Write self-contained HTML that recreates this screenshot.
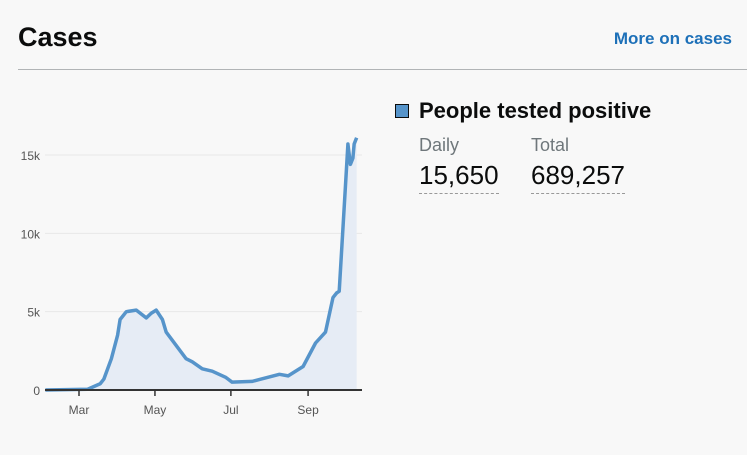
<!DOCTYPE html>
<html><head><meta charset="utf-8"><style>
body{margin:0;width:747px;height:455px;background:#f8f8f8;font-family:"Liberation Sans",sans-serif;position:relative;overflow:hidden}
.t{position:absolute}
</style></head><body>
<div class="t" style="left:18px;top:22px;font-size:27px;font-weight:bold;color:#0b0c0c">Cases</div>
<a class="t" style="right:15px;top:29px;font-size:17px;font-weight:bold;color:#1d70b8;text-decoration:none">More on cases</a>
<div class="t" style="left:18px;top:69px;width:729px;height:1px;background:#b1b4b6"></div>
<div class="t" style="left:395px;top:104px;width:12px;height:12px;background:#5694ca;border:1px solid #0b0c0c"></div>
<div class="t" style="left:419px;top:98px;font-size:22px;font-weight:bold;color:#0b0c0c">People tested positive</div>
<div class="t" style="left:419px;top:135px;font-size:18px;color:#6f777b">Daily</div>
<div class="t" style="left:419px;top:160px;font-size:26px;color:#0b0c0c;border-bottom:1px dashed #999;padding-bottom:2px">15,650</div>
<div class="t" style="left:531px;top:135px;font-size:18px;color:#6f777b">Total</div>
<div class="t" style="left:531px;top:160px;font-size:26px;color:#0b0c0c;border-bottom:1px dashed #999;padding-bottom:2px">689,257</div>
<svg class="t" style="left:0;top:0" width="747" height="455" id="chart"></svg>
<script>
const days=[-27,7,17,20,26,31,33,38,46,54,58,62,67,70,86,91,99,107,118,123,139,161,168,180,190,198,204,207,209,214,216,218,220,221,223];
const cases=[0,50,400,700,2000,3500,4500,5000,5100,4600,4900,5100,4500,3700,2000,1800,1350,1200,800,500,550,1000,900,1500,3000,3700,5900,6200,6300,13000,15700,14400,14800,15700,16100];
const yTicks=[0,5000,10000,15000];
const yTickLabels=["0","5k","10k","15k"];
const xTicks=[0,61,122,184];
const xTickLabels=["Mar","May","Jul","Sep"];
const svg=document.getElementById('chart');
const NS='http://www.w3.org/2000/svg';
const X=d=>79+d*1.245;
const Y=v=>390-v*235/15000;
function mk(t,a){const e=document.createElementNS(NS,t);for(const k in a)e.setAttribute(k,a[k]);svg.appendChild(e);return e;}
yTicks.forEach((v,i)=>{
 const g=mk('line',{x1:45,x2:362,y1:Y(v),y2:Y(v),stroke:'#e8e8e8'});
 
 
 const t=mk('text',{x:40,y:Y(v)+5,'text-anchor':'end','font-size':12,fill:'#555','font-family':'Liberation Sans,sans-serif'});
 t.textContent=yTickLabels[i];
 
 
});
let pts=days.map((d,i)=>X(d)+','+Y(cases[i])).join(' ');
const area=mk('polygon',{points:X(days[0])+','+Y(0)+' '+pts+' '+X(days[days.length-1])+','+Y(0),fill:'#e6ecf5'});


const line=mk('polyline',{points:pts,fill:'none',stroke:'#5694ca','stroke-width':3.5,'stroke-linejoin':'round'});


const ax=mk('line',{x1:45,x2:362,y1:390,y2:390,stroke:'#333','stroke-width':2});


xTicks.forEach((d,i)=>{
 const tk=mk('line',{x1:X(d),x2:X(d),y1:390,y2:396,stroke:'#333','stroke-width':1.5});
 
 
 const t=mk('text',{x:X(d),y:414,'text-anchor':'middle','font-size':12,fill:'#555','font-family':'Liberation Sans,sans-serif'});
 t.textContent=xTickLabels[i];
 
 
});
</script>
</body></html>
